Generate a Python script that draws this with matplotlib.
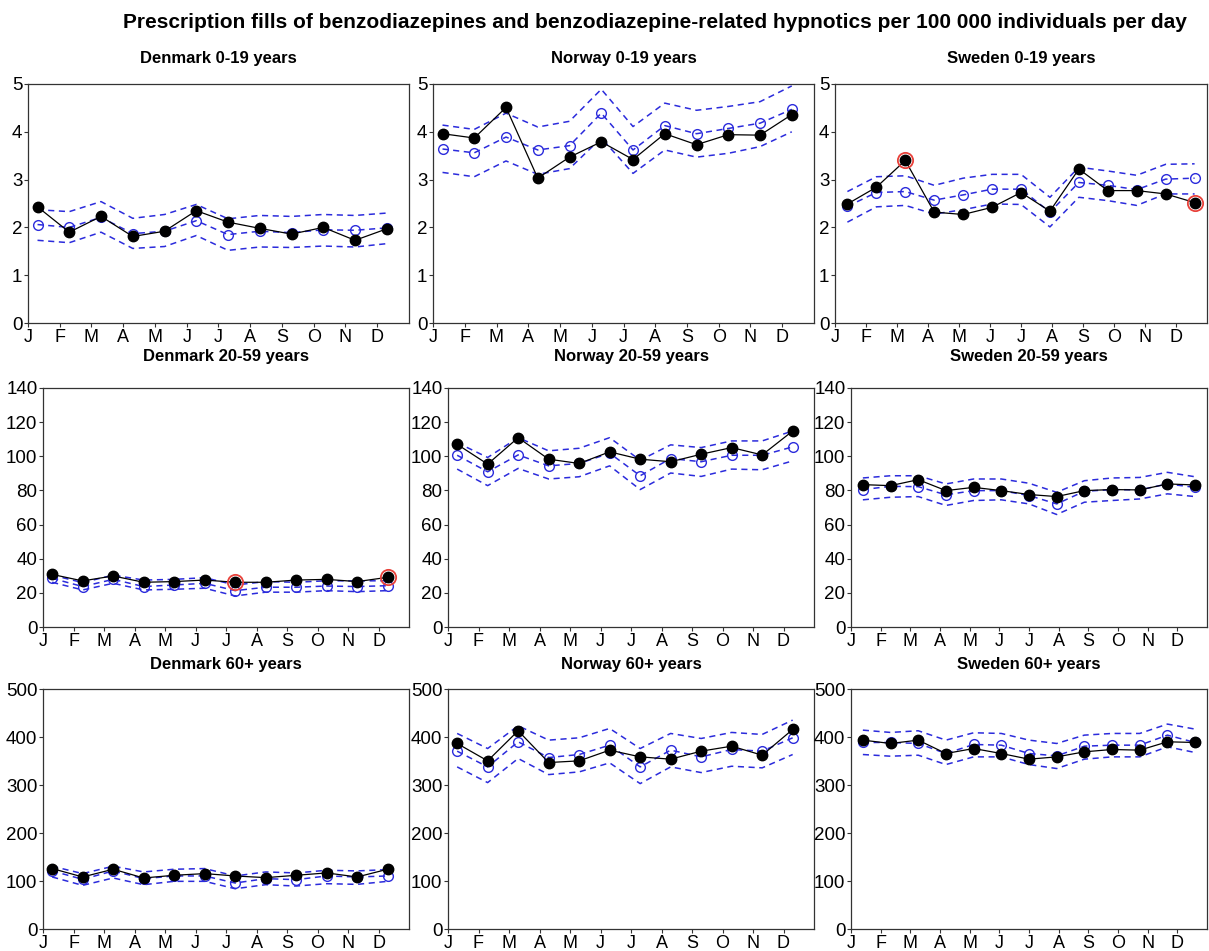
#!/usr/bin/env python3
"""
Prescription fills of benzodiazepines per 100 000 individuals per day:
observed vs expected with prediction bands, by country and age group.
"""

import numpy as np
import matplotlib
matplotlib.use('Agg')
import matplotlib.pyplot as plt

plt.rcParams['font.family'] = ['Liberation Sans', 'DejaVu Sans']

months = ['J', 'F', 'M', 'A', 'M', 'J', 'J', 'A', 'S', 'O', 'N', 'D']

# x position (in months) of each period: monthly for DK/NO, 4-week for SE
x_month = np.arange(12) + 0.3
x_4week = 0.4 + np.arange(13) * (11.2 / 12)

# --- Denmark ---
dk019_obs = [2.43, 1.90, 2.23, 1.81, 1.92, 2.35, 2.11, 1.98, 1.86, 2.00, 1.73, 1.97]
dk019_exp = [2.06, 2.00, 2.21, 1.87, 1.92, 2.14, 1.85, 1.92, 1.89, 1.95, 1.94, 1.99]
dk019_hi = [2.37, 2.33, 2.54, 2.19, 2.27, 2.48, 2.18, 2.25, 2.23, 2.27, 2.25, 2.30]
dk019_lo = [1.73, 1.68, 1.90, 1.56, 1.60, 1.83, 1.52, 1.59, 1.58, 1.61, 1.59, 1.66]
dk019_sig = []

dk2059_obs = [30.8, 27.0, 29.9, 26.2, 26.6, 27.5, 26.2, 26.2, 27.5, 27.9, 26.6, 29.1]
dk2059_exp = [28.5, 23.7, 27.9, 23.7, 24.6, 25.6, 21.3, 23.3, 23.3, 24.0, 23.7, 24.2]
dk2059_hi = [30.4, 26.0, 30.4, 27.5, 27.9, 28.9, 24.6, 26.6, 26.2, 27.1, 27.0, 27.1]
dk2059_lo = [26.2, 21.7, 25.6, 21.7, 22.1, 22.7, 18.2, 20.4, 20.4, 21.3, 20.7, 21.3]
dk2059_sig = [6, 11]

dk60_obs = [125.9, 108.4, 124.5, 106.3, 111.9, 115.4, 110.5, 107.0, 111.9, 116.8, 108.4, 124.5]
dk60_exp = [121.0, 103.5, 121.0, 104.9, 110.5, 110.5, 95.8, 104.9, 102.8, 110.5, 108.4, 110.5]
dk60_hi = [130.8, 115.4, 130.8, 118.9, 124.5, 125.9, 110.5, 118.9, 116.8, 122.4, 121.0, 123.8]
dk60_lo = [108.4, 90.9, 106.3, 92.3, 99.3, 99.3, 83.9, 92.3, 89.5, 94.4, 93.0, 99.3]
dk60_sig = []

# --- Norway ---
no019_obs = [3.96, 3.87, 4.51, 3.03, 3.47, 3.79, 3.42, 3.96, 3.73, 3.94, 3.93, 4.36]
no019_exp = [3.64, 3.56, 3.89, 3.62, 3.71, 4.39, 3.62, 4.13, 3.96, 4.07, 4.18, 4.47]
no019_hi = [4.14, 4.05, 4.39, 4.10, 4.22, 4.89, 4.11, 4.60, 4.45, 4.53, 4.63, 4.96]
no019_lo = [3.15, 3.06, 3.39, 3.11, 3.23, 3.87, 3.13, 3.62, 3.47, 3.55, 3.69, 4.00]
no019_sig = []

no2059_obs = [107.0, 95.4, 110.9, 98.3, 95.8, 102.6, 98.3, 96.8, 101.2, 105.1, 100.8, 114.8]
no2059_exp = [100.6, 90.9, 100.8, 94.4, 95.8, 101.8, 88.6, 98.7, 96.8, 100.6, 100.6, 105.5]
no2059_hi = [108.0, 99.3, 110.9, 103.2, 104.7, 110.9, 97.7, 106.7, 105.1, 109.0, 109.0, 114.8]
no2059_lo = [92.5, 82.8, 92.9, 86.7, 88.0, 94.4, 80.5, 90.2, 88.2, 92.5, 92.1, 97.3]
no2059_sig = []

no60_obs = [386.5, 350.3, 413.0, 346.8, 350.3, 372.6, 358.6, 353.8, 370.5, 380.9, 362.1, 415.7]
no60_exp = [370.5, 337.7, 390.0, 357.2, 363.5, 383.0, 337.7, 372.6, 358.6, 374.0, 370.5, 398.3]
no60_hi = [407.4, 376.0, 423.4, 393.5, 398.3, 417.8, 376.0, 407.4, 396.9, 409.5, 405.3, 435.2]
no60_lo = [337.7, 305.0, 355.2, 321.7, 327.3, 346.1, 302.9, 337.7, 325.9, 339.1, 335.7, 363.5]
no60_sig = []

# --- Sweden (13 four-week periods) ---
se019_obs = [2.49, 2.84, 3.40, 2.32, 2.27, 2.42, 2.73, 2.34, 3.22, 2.77, 2.77, 2.70, 2.52]
se019_exp = [2.44, 2.73, 2.75, 2.57, 2.68, 2.80, 2.80, 2.32, 2.94, 2.88, 2.79, 3.01, 3.03]
se019_hi = [2.75, 3.06, 3.08, 2.88, 3.03, 3.11, 3.11, 2.63, 3.26, 3.18, 3.09, 3.32, 3.33]
se019_lo = [2.11, 2.43, 2.46, 2.28, 2.37, 2.49, 2.48, 2.01, 2.63, 2.56, 2.46, 2.70, 2.70]
se019_sig = [2, 12]

se2059_obs = [83.4, 82.8, 86.3, 79.9, 81.8, 79.9, 77.6, 76.4, 79.9, 80.5, 80.3, 83.8, 83.2]
se2059_exp = [80.5, 82.4, 82.2, 77.4, 79.9, 79.9, 77.0, 72.1, 79.5, 80.5, 80.3, 83.8, 81.8]
se2059_hi = [87.3, 88.6, 88.6, 83.8, 86.7, 86.7, 84.2, 78.9, 85.7, 87.3, 87.6, 90.6, 88.0]
se2059_lo = [74.5, 76.0, 76.4, 71.2, 74.1, 74.5, 72.1, 65.9, 73.1, 74.1, 75.0, 78.0, 76.4]
se2059_sig = []

se60_obs = [393.5, 386.5, 393.5, 365.6, 376.0, 365.6, 353.8, 358.6, 369.1, 374.0, 372.6, 390.0, 388.6]
se60_exp = [388.6, 388.6, 386.5, 365.6, 384.4, 383.0, 365.6, 360.7, 380.9, 383.0, 383.0, 403.9, 388.6]
se60_hi = [414.3, 409.5, 413.0, 393.5, 408.8, 407.4, 393.5, 386.5, 403.9, 407.4, 407.4, 426.9, 416.4]
se60_lo = [363.5, 360.0, 362.1, 342.6, 358.6, 358.6, 342.6, 334.3, 353.8, 358.6, 358.6, 379.5, 367.7]
se60_sig = []

# panels: (title, x, obs, exp, hi, lo, flagged periods, ymax, ytick step)
panels = [
    [('Denmark 0-19 years', x_month, dk019_obs, dk019_exp, dk019_hi, dk019_lo, dk019_sig, 5, 1),
     ('Norway 0-19 years', x_month, no019_obs, no019_exp, no019_hi, no019_lo, no019_sig, 5, 1),
     ('Sweden 0-19 years', x_4week, se019_obs, se019_exp, se019_hi, se019_lo, se019_sig, 5, 1)],
    [('Denmark 20-59 years', x_month, dk2059_obs, dk2059_exp, dk2059_hi, dk2059_lo, dk2059_sig, 140, 20),
     ('Norway 20-59 years', x_month, no2059_obs, no2059_exp, no2059_hi, no2059_lo, no2059_sig, 140, 20),
     ('Sweden 20-59 years', x_4week, se2059_obs, se2059_exp, se2059_hi, se2059_lo, se2059_sig, 140, 20)],
    [('Denmark 60+ years', x_month, dk60_obs, dk60_exp, dk60_hi, dk60_lo, dk60_sig, 500, 100),
     ('Norway 60+ years', x_month, no60_obs, no60_exp, no60_hi, no60_lo, no60_sig, 500, 100),
     ('Sweden 60+ years', x_4week, se60_obs, se60_exp, se60_hi, se60_lo, se60_sig, 500, 100)],
]

W, H = 1209, 951
# pixel boxes (top, bottom) per row and (left, right) per column/row
row_tb = [(84, 323), (388, 627), (689, 929)]
col_lr = [[(28, 409), (433, 814), (835, 1207)],
          [(43, 409), (448, 814), (851, 1207)],
          [(43, 409), (448, 814), (851, 1207)]]
title_y = [58, 357, 665]

BLUE = '#2b2bdc'
RED = '#e8413a'

fig = plt.figure(figsize=(W / 100, H / 100), dpi=100)

for r, row in enumerate(panels):
    top, bot = row_tb[r]
    for c, (title, x, obs, exp, hi, lo, sig, ymax, step) in enumerate(row):
        left, right = col_lr[r][c]
        ax = fig.add_axes([left / W, 1 - bot / H, (right - left) / W, (bot - top) / H])
        x = np.asarray(x)
        obs = np.asarray(obs)

        ax.plot(x, hi, color=BLUE, lw=1.1, dashes=(4, 3))
        ax.plot(x, lo, color=BLUE, lw=1.1, dashes=(4, 3))
        ax.plot(x, exp, color=BLUE, lw=1.1, dashes=(4, 3),
                marker='o', ms=7, mfc='none', mec=BLUE, mew=1.0)
        ax.plot(x, obs, color='black', lw=0.9, marker='o', ms=7.5,
                mfc='black', mec='black', zorder=4)

        # signal periods marked with a red ring
        if sig:
            ax.plot(x[sig], obs[sig], ls='none', marker='o', ms=11,
                    mfc='none', mec=RED, mew=1.3, zorder=5)

        ax.set_xlim(0, 12)
        ax.set_ylim(0, ymax)
        ax.set_xticks(np.arange(12))
        ax.set_xticklabels(months)
        ax.set_yticks(np.arange(0, ymax + step / 2, step))
        ax.tick_params(axis='both', length=3, width=0.8, direction='out',
                       colors='#333333', labelcolor='black')
        ax.tick_params(axis='y', labelsize=13.5, pad=1)
        ax.tick_params(axis='x', labelsize=13, pad=1)
        for sp in ax.spines.values():
            sp.set_linewidth(0.9)
            sp.set_color('#333333')

        cx = (left + right) / 2 / W
        fig.text(cx, 1 - title_y[r] / H, title, ha='center', va='center',
                 fontsize=12, fontweight='bold')

fig.text(655 / W, 1 - 22 / H,
         'Prescription fills of benzodiazepines and benzodiazepine-related '
         'hypnotics per 100 000 individuals per day',
         ha='center', va='center', fontsize=15, fontweight='bold')

fig.savefig('out.png', dpi=100)
